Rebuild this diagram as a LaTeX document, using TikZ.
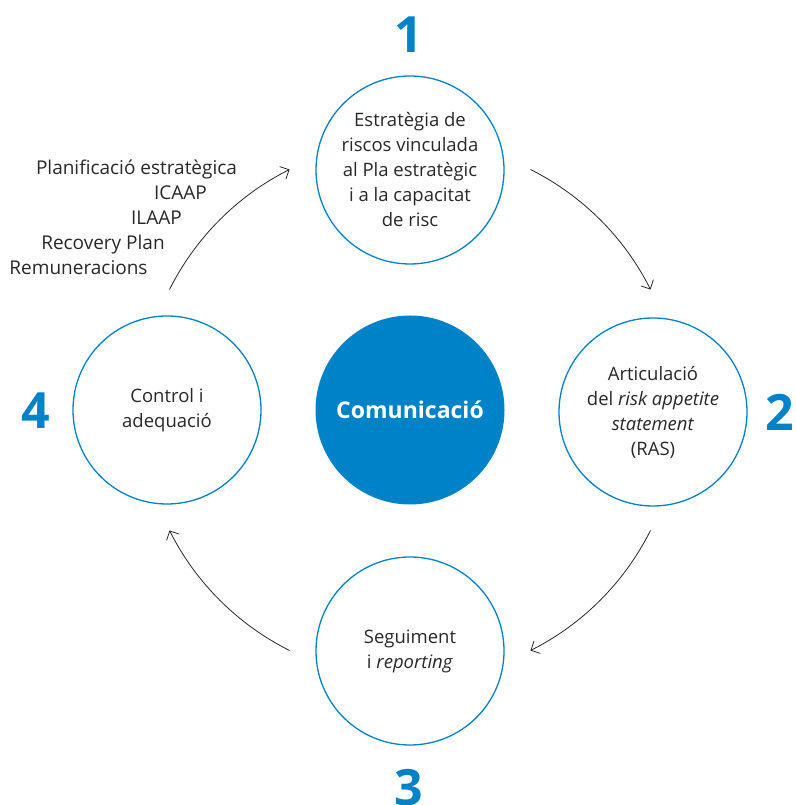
\documentclass[tikz,border=0pt]{standalone}
\usepackage{fontspec}
\setmainfont{Open Sans}
\usetikzlibrary{arrows.meta,calc}
\definecolor{cblue}{RGB}{0,130,200}
\definecolor{ctext}{RGB}{40,40,40}
\begin{document}
\begin{tikzpicture}[x=1pt,y=1pt,
  stage/.style={circle,draw=cblue,line width=1.3pt,minimum size=188pt,inner sep=0pt,
    text=ctext,align=center,font=\fontsize{18.5}{25}\selectfont},
  hub/.style={circle,fill=cblue,minimum size=189pt,inner sep=0pt,text=white,
    font=\fontsize{23}{28}\selectfont\bfseries},
  num/.style={text=cblue,font=\fontsize{50}{50}\selectfont\bfseries,inner sep=0pt},
  item/.style={anchor=base,text=ctext,font=\fontsize{19}{25}\selectfont,inner sep=0pt},
  flow/.style={draw=black!85,line width=0.8pt,-{Straight Barb[length=7pt,width=14pt,line width=0.8pt]}}]
\useasboundingbox (0,0) rectangle (795,805);
\node[hub] (C) at (410,395) {Comunicació};
\node[stage] (S1) at (410,635) {Estratègia de\\riscos vinculada\\al Pla estratègic\\i a la capacitat\\de risc};
\node[stage] (S2) at (653,393) {Articulació\\del \textit{risk appetite}\\\textit{statement}\\(RAS)};
\node[stage] (S3) at (410,154) {Seguiment\\i \textit{reporting}};
\node[stage] (S4) at (167,395) {Control i\\adequació};
\node[num] (N1) at (409,770) {1};
\node[num] (N2) at (780,393) {2};
\node[num] (N3) at (409,17) {3};
\node[num] (N4) at (36,394) {4};
\node[item] (L1) at (136.5,630) {Planificació estratègica};
\node[item] (L2) at (180.5,605) {ICAAP};
\node[item] (L3) at (156.5,580) {ILAAP};
\node[item] (L4) at (103,555) {Recovery Plan};
\node[item] (L5) at (78.5,530) {Remuneracions};
\draw[flow] ($(C.center)+(63.4:269)$) arc[start angle=63.4,end angle=26.6,radius=269];
\draw[flow] ($(C.center)+(-26.6:269)$) arc[start angle=-26.6,end angle=-63.4,radius=269];
\draw[flow] ($(C.center)+(-116.6:269)$) arc[start angle=-116.6,end angle=-153.4,radius=269];
\draw[flow] ($(C.center)+(153.4:269)$) arc[start angle=153.4,end angle=116.6,radius=269];
\end{tikzpicture}
\end{document}
